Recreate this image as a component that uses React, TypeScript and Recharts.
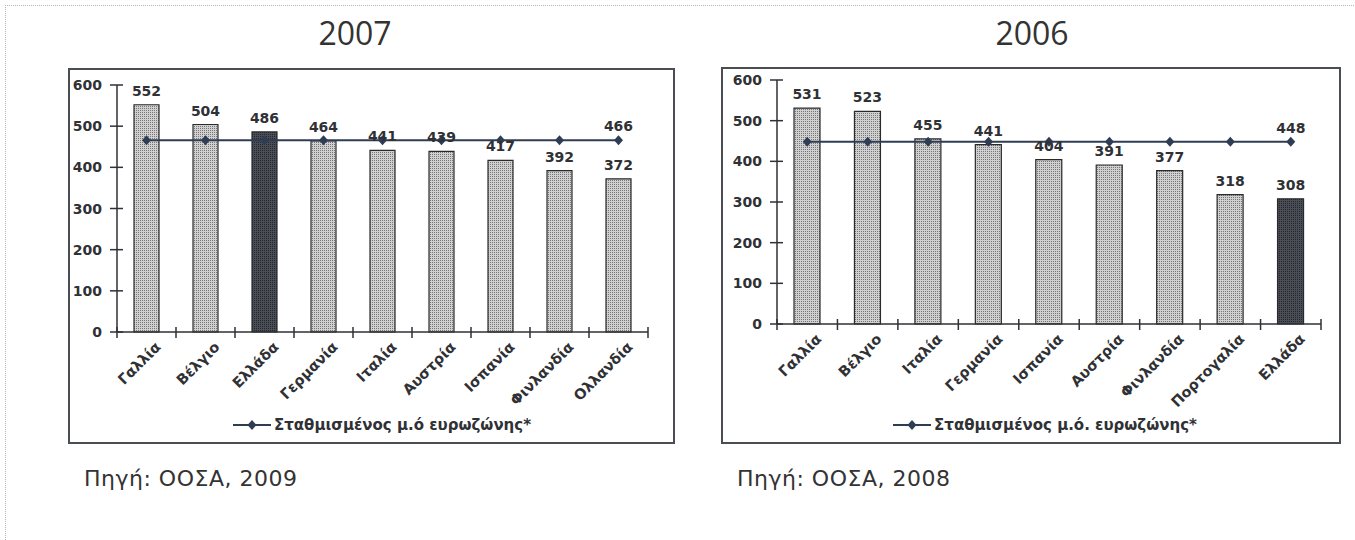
import React from 'react';
import {
  ComposedChart,
  Bar,
  Line,
  XAxis,
  YAxis,
  Cell,
  LabelList,
  Legend,
} from 'recharts';

// 2007 panel
const countries2007 = ['Γαλλία', 'Βέλγιο', 'Ελλάδα', 'Γερμανία', 'Ιταλία', 'Αυστρία', 'Ισπανία', 'Φινλανδία', 'Ολλανδία'];
const values2007 = [552, 504, 486, 464, 441, 439, 417, 392, 372];
const euroAvg2007 = [466, 466, 466, 466, 466, 466, 466, 466, 466];

// 2006 panel
const countries2006 = ['Γαλλία', 'Βέλγιο', 'Ιταλία', 'Γερμανία', 'Ισπανία', 'Αυστρία', 'Φινλανδία', 'Πορτογαλία', 'Ελλάδα'];
const values2006 = [531, 523, 455, 441, 404, 391, 377, 318, 308];
const euroAvg2006 = [448, 448, 448, 448, 448, 448, 448, 448, 448];

const yTicks = [0, 100, 200, 300, 400, 500, 600];

const CHART_FONT = '"DejaVu Sans", Verdana, sans-serif';
const TEXT_FONT = '"Open Sans", "DejaVu Sans", sans-serif';
const INK = '#2f3135';
const LINE = '#2f3d54';

interface PanelProps {
  id: string;
  countries: string[];
  values: number[];
  avg: number[];
  width: number;
  height: number;
  top: number;
  right: number;
  yWidth: number;
  xHeight: number;
  legendHeight: number;
  legendShift: number;
  legendText: string;
  barSize: number;
}

function Panel(p: PanelProps) {
  const rows = p.countries.map((c, i) => ({ country: c, value: p.values[i], avg: p.avg[i] }));
  const n = rows.length;
  const plotW = p.width - p.yWidth - p.right;
  const band = plotW / n;

  const xTick = (props: any) => {
    const { x, y, payload, index } = props;
    const lx = x - band / 2;
    const tx = x + 15;
    const ty = y + 16;
    return (
      <g>
        <line x1={lx} x2={lx} y1={y - 5} y2={y + 6} stroke={INK} strokeWidth={1.5} />
        {index === n - 1 && (
          <line x1={x + band / 2} x2={x + band / 2} y1={y - 5} y2={y + 6} stroke={INK} strokeWidth={1.5} />
        )}
        <text
          x={tx}
          y={ty}
          transform={`rotate(-45, ${tx}, ${ty})`}
          textAnchor="end"
          fontFamily={CHART_FONT}
          fontWeight={700}
          fontSize={14.5}
          fill={INK}
        >
          {payload.value}
        </text>
      </g>
    );
  };

  const yTick = (props: any) => {
    const { y, payload } = props;
    const ax = p.yWidth;
    return (
      <g>
        <line x1={ax - 7} x2={ax + 6} y1={y} y2={y} stroke={INK} strokeWidth={1.5} />
        <text x={ax - 15} y={y + 5} textAnchor="end" fontFamily={CHART_FONT} fontWeight={700} fontSize={14} fill={INK}>
          {payload.value}
        </text>
      </g>
    );
  };

  const diamond = (props: any) => {
    const { cx, cy, index } = props;
    return (
      <path
        key={`d-${index}`}
        d={`M${cx},${cy - 5}L${cx + 4.5},${cy}L${cx},${cy + 5}L${cx - 4.5},${cy}Z`}
        fill={LINE}
      />
    );
  };

  const lastLabel = (props: any) => {
    const { x, y, value, index } = props;
    if (index !== n - 1) return <g key={`l-${index}`} />;
    return (
      <text key={`l-${index}`} x={x} y={y - 9} textAnchor="middle" fontFamily={CHART_FONT} fontWeight={700} fontSize={14} fill={INK}>
        {value}
      </text>
    );
  };

  const legendContent = () => (
    <div
      style={{
        display: 'flex',
        justifyContent: 'center',
        alignItems: 'center',
        height: p.legendHeight,
        transform: `translateX(${p.legendShift}px)`,
        fontFamily: CHART_FONT,
        fontWeight: 700,
        fontSize: 15,
        color: INK,
      }}
    >
      <svg width={38} height={12} style={{ marginRight: 3 }}>
        <line x1={0} x2={38} y1={6} y2={6} stroke={LINE} strokeWidth={2} />
        <path d="M19,1L23.5,6L19,11L14.5,6Z" fill={LINE} />
      </svg>
      <span>{p.legendText}</span>
    </div>
  );

  return (
    <ComposedChart
      width={p.width}
      height={p.height}
      data={rows}
      margin={{ top: p.top, right: p.right, left: 0, bottom: 0 }}
    >
      <defs>
        <pattern id={`${p.id}-light`} width={2} height={2} patternUnits="userSpaceOnUse">
          <rect width={2} height={2} fill="#d0d0d0" />
          <rect width={1} height={1} fill="#777777" />
        </pattern>
        <pattern id={`${p.id}-dark`} width={2} height={2} patternUnits="userSpaceOnUse">
          <rect width={2} height={2} fill="#4a4e56" />
          <rect width={1} height={1} fill="#25272c" />
        </pattern>
      </defs>
      <XAxis
        dataKey="country"
        interval={0}
        height={p.xHeight}
        tickSize={0}
        tickMargin={0}
        tickLine={false}
        axisLine={{ stroke: INK, strokeWidth: 1.5 }}
        tick={xTick}
      />
      <XAxis
        xAxisId="frame"
        orientation="top"
        dataKey="country"
        height={0}
        tick={false}
        tickLine={false}
        axisLine={{ stroke: INK, strokeWidth: 1.2 }}
      />
      <YAxis
        domain={[0, 600]}
        ticks={yTicks}
        interval={0}
        width={p.yWidth}
        tickLine={false}
        axisLine={{ stroke: INK, strokeWidth: 1.5 }}
        tick={yTick}
      />
      <YAxis
        yAxisId="frame"
        orientation="right"
        width={0}
        domain={[0, 600]}
        tick={false}
        tickLine={false}
        axisLine={{ stroke: INK, strokeWidth: 1.2 }}
      />
      <Bar dataKey="value" barSize={p.barSize} stroke="#2a2a2a" strokeWidth={1.2} isAnimationActive={false}>
        {rows.map((r) => (
          <Cell key={r.country} fill={`url(#${p.id}-${r.country === 'Ελλάδα' ? 'dark' : 'light'})`} />
        ))}
        <LabelList
          dataKey="value"
          position="top"
          offset={9}
          style={{ fontFamily: CHART_FONT, fontWeight: 700, fontSize: 14, fill: INK }}
        />
      </Bar>
      <Line
        dataKey="avg"
        stroke={LINE}
        strokeWidth={2}
        dot={diamond}
        activeDot={false}
        label={lastLabel}
        isAnimationActive={false}
      />
      <Legend verticalAlign="bottom" height={p.legendHeight} content={legendContent} />
    </ComposedChart>
  );
}

const boxStyle = (left: number, top: number, width: number, height: number): React.CSSProperties => ({
  position: 'absolute',
  left,
  top,
  width,
  height,
  border: '2px solid #4a4d52',
  background: '#fff',
});

const titleStyle = (center: number): React.CSSProperties => ({
  position: 'absolute',
  left: center - 100,
  top: 17,
  width: 200,
  textAlign: 'center',
  fontFamily: TEXT_FONT,
  fontSize: 32,
  lineHeight: 1,
  color: '#333',
});

const sourceStyle = (left: number): React.CSSProperties => ({
  position: 'absolute',
  left,
  top: 468,
  fontFamily: CHART_FONT,
  fontSize: 22,
  letterSpacing: 0.5,
  lineHeight: 1,
  color: '#333',
  whiteSpace: 'nowrap',
});

export default function App() {
  return (
    <div
      style={{
        position: 'absolute',
        left: 0,
        top: 0,
        width: 1355,
        height: 540,
        background: '#fff',
        overflow: 'hidden',
      }}
    >
      <div
        style={{
          position: 'absolute',
          left: 5,
          top: 5,
          width: 1360,
          height: 540,
          borderTop: '1px dotted #b5b5b5',
          borderLeft: '1px dotted #b5b5b5',
        }}
      />

      <div style={titleStyle(355)}>2007</div>
      <div style={titleStyle(1032)}>2006</div>

      <div style={boxStyle(68, 68, 603, 372)}>
        <Panel
          id="p2007"
          countries={countries2007}
          values={values2007}
          avg={euroAvg2007}
          width={603}
          height={372}
          top={15}
          right={25}
          yWidth={47}
          xHeight={76}
          legendHeight={34}
          legendShift={23}
          legendText="Σταθμισμένος μ.ό ευρωζώνης*"
          barSize={25}
        />
      </div>

      <div style={boxStyle(721, 67, 616, 373)}>
        <Panel
          id="p2006"
          countries={countries2006}
          values={values2006}
          avg={euroAvg2006}
          width={616}
          height={373}
          top={11}
          right={18}
          yWidth={54}
          xHeight={84}
          legendHeight={34}
          legendShift={23}
          legendText="Σταθμισμένος μ.ό. ευρωζώνης*"
          barSize={26}
        />
      </div>

      <div style={sourceStyle(84)}>Πηγή: ΟΟΣΑ, 2009</div>
      <div style={sourceStyle(737)}>Πηγή: ΟΟΣΑ, 2008</div>
    </div>
  );
}
